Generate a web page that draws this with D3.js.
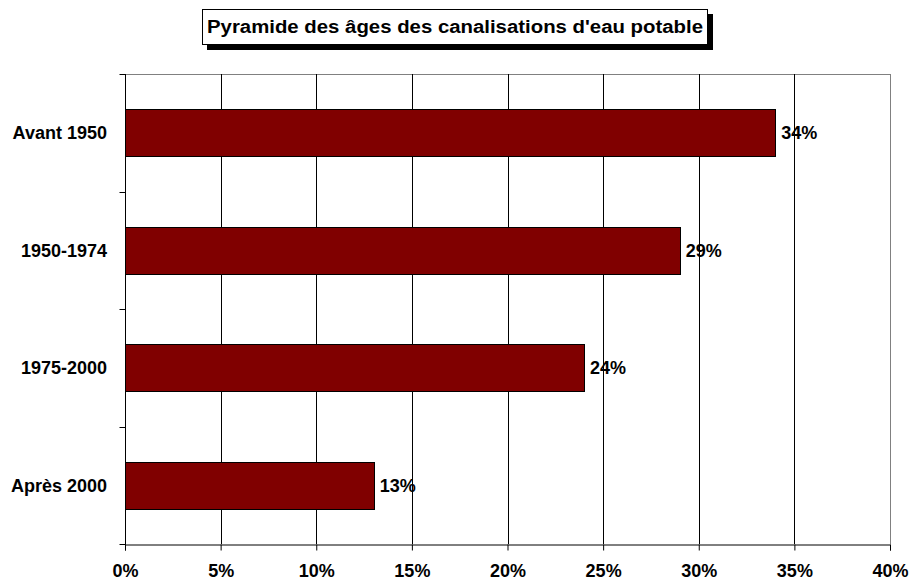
<!DOCTYPE html>
<html>
<head>
<meta charset="utf-8">
<script src="https://cdn.jsdelivr.net/npm/d3@7"></script>
<style>
  body { margin: 0; background: #fff; }
  text { font-family: "Liberation Sans", Arial, sans-serif; font-weight: bold; font-size: 18px; fill: #000; }
</style>
</head>
<body>
<div id="chart"></div>
<script>
const categories = ["Avant 1950", "1950-1974", "1975-2000", "Après 2000"];
const values = [34, 29, 24, 13];
const xTicks = [0, 5, 10, 15, 20, 25, 30, 35, 40];
const title = "Pyramide des âges des canalisations d'eau potable";

const width = 912, height = 581;
const plotLeft = 125, plotRight = 890, plotTop = 74, plotBottom = 544;

const svg = d3.select("#chart").append("svg")
    .attr("width", width)
    .attr("height", height);

const x = d3.scaleLinear().domain([0, 40]).range([plotLeft, plotRight]);
const y = d3.scaleBand().domain(categories).range([plotTop, plotBottom]).paddingInner(0.6).paddingOuter(0.3);

// frame: top and right in grey
svg.append("line").attr("x1", plotLeft).attr("x2", plotRight).attr("y1", plotTop + 0.5).attr("y2", plotTop + 0.5)
    .attr("stroke", "#808080");
svg.append("line").attr("x1", plotRight + 0.5).attr("x2", plotRight + 0.5).attr("y1", plotTop).attr("y2", plotBottom)
    .attr("stroke", "#808080");

// vertical gridlines
svg.append("g").selectAll("line")
    .data(xTicks.slice(1, -1))
    .enter().append("line")
    .attr("x1", d => Math.round(x(d)) + 0.5)
    .attr("x2", d => Math.round(x(d)) + 0.5)
    .attr("y1", plotTop)
    .attr("y2", plotBottom)
    .attr("stroke", "#000");

// bars
svg.append("g").selectAll("rect")
    .data(values)
    .enter().append("rect")
    .attr("x", x(0) + 0.5)
    .attr("y", (d, i) => Math.round(y(categories[i])) + 0.5)
    .attr("width", d => Math.round(x(d) - x(0)))
    .attr("height", Math.round(y.bandwidth()))
    .attr("fill", "#800000")
    .attr("stroke", "#000")
    .attr("stroke-width", 1);

// value labels
svg.append("g").selectAll("text")
    .data(values)
    .enter().append("text")
    .attr("x", d => x(d) + 6)
    .attr("y", (d, i) => y(categories[i]) + y.bandwidth() / 2)
    .attr("dy", "0.35em")
    .text(d => d + "%");

// x axis
const xAxis = svg.append("g")
    .attr("transform", `translate(0,${plotBottom + 0.5})`)
    .call(d3.axisBottom(x).tickValues(xTicks).tickSize(6).tickPadding(14).tickFormat(d => d + "%"));
xAxis.select(".domain").attr("stroke", "#000");
xAxis.selectAll(".tick line").attr("stroke", "#000");
xAxis.attr("font-size", null).attr("font-family", null);

// y axis: ticks at band boundaries
const step = (plotBottom - plotTop) / categories.length;
const yAxis = svg.append("g").attr("transform", `translate(${plotLeft + 0.5},0)`);
yAxis.append("line").attr("y1", plotTop).attr("y2", plotBottom + 6).attr("stroke", "#000");
yAxis.selectAll(".tk")
    .data(d3.range(categories.length + 1))
    .enter().append("line")
    .attr("x1", -6).attr("x2", 0)
    .attr("y1", i => Math.round(plotTop + i * step) + 0.5)
    .attr("y2", i => Math.round(plotTop + i * step) + 0.5)
    .attr("stroke", "#000");
svg.append("g").selectAll("text")
    .data(categories)
    .enter().append("text")
    .attr("x", 107)
    .attr("y", d => y(d) + y.bandwidth() / 2)
    .attr("dy", "0.35em")
    .attr("text-anchor", "end")
    .text(d => d);

// title box with shadow
const tg = svg.append("g");
tg.append("rect")
    .attr("x", 207).attr("y", 14)
    .attr("width", 506).attr("height", 36)
    .attr("fill", "#000");
tg.append("rect")
    .attr("x", 202.5).attr("y", 9.5)
    .attr("width", 505).attr("height", 35)
    .attr("fill", "#fff")
    .attr("stroke", "#000");
tg.append("text")
    .attr("x", 455)
    .attr("y", 27)
    .attr("dy", "0.35em")
    .attr("text-anchor", "middle")
    .attr("font-size", "19px")
    .attr("textLength", 496)
    .attr("lengthAdjust", "spacingAndGlyphs")
    .text(title);
</script>
</body>
</html>
